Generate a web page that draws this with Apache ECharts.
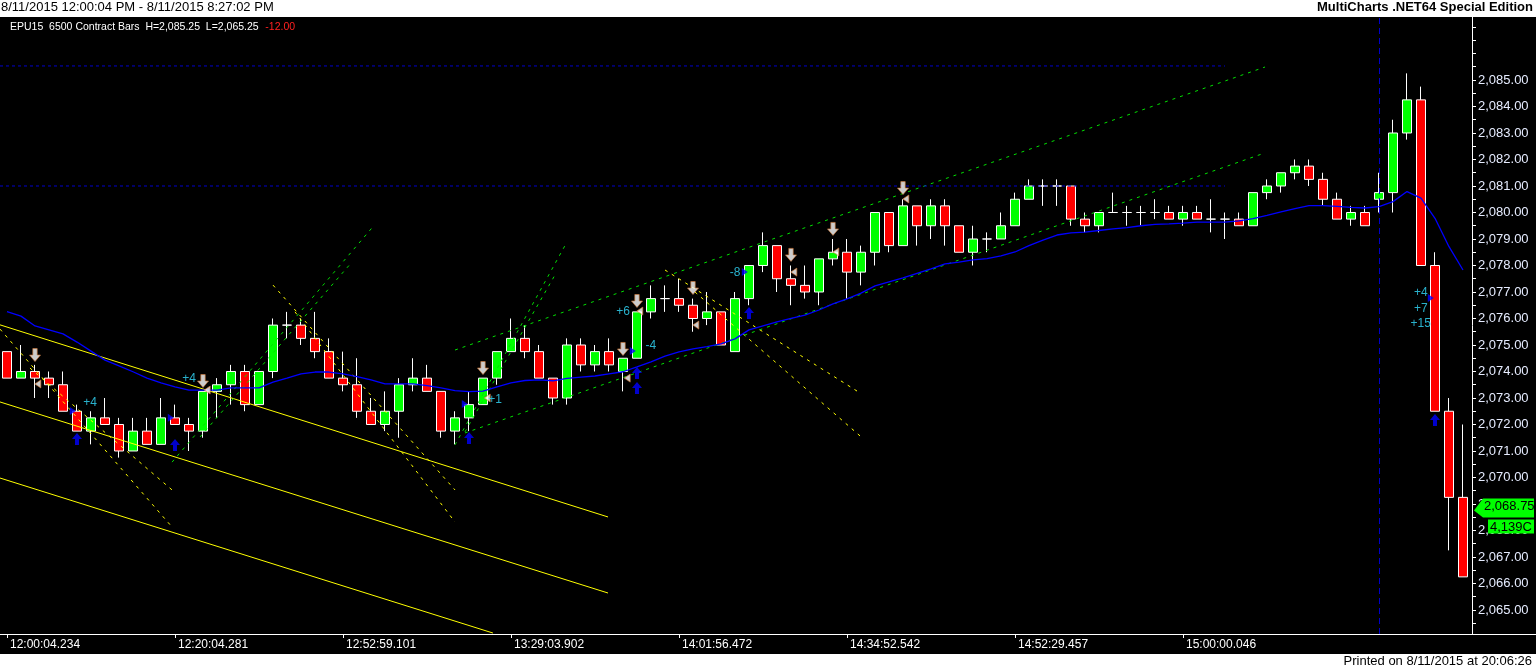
<!DOCTYPE html>
<html>
<head>
<meta charset="utf-8">
<title>EPU15 6500 Contract Bars</title>
<script src="https://cdn.jsdelivr.net/npm/echarts@6/dist/echarts.min.js"></script>
<style>
html, body { margin: 0; padding: 0; background: #000; }
#main { width: 1536px; height: 670px; }
</style>
</head>
<body>
<div id="main"></div>
<script>
// bar data, one entry per 6500 contract bar
var openArr = [
	2074.75, 2073.75, 2074.0, 2073.75, 2073.5, 2072.5, 2071.75, 2072.25, 2072.0, 2071.0,
	2071.75, 2071.25, 2072.25, 2072.0, 2071.75, 2073.25, 2073.5, 2074.0, 2072.75, 2074.0,
	2075.75, 2075.75, 2075.25, 2074.75, 2073.75, 2073.5, 2072.5, 2072.0, 2072.5, 2073.5,
	2073.75, 2073.25, 2071.75, 2072.25, 2072.75, 2073.75, 2074.75, 2075.25, 2074.75, 2073.75,
	2073.0, 2075.0, 2074.25, 2074.75, 2074.0, 2074.5, 2076.25, 2076.75, 2076.75, 2076.5,
	2076.0, 2076.25, 2074.75, 2076.75, 2078.0, 2078.75, 2077.5, 2077.25, 2077.0, 2078.25,
	2078.5, 2077.75, 2078.5, 2080.0, 2078.75, 2080.25, 2079.5, 2080.25, 2079.5, 2078.5,
	2079.0, 2079.0, 2079.5, 2080.5, 2081.0, 2081.0, 2081.0, 2079.75, 2079.5, 2080.0,
	2080.0, 2080.0, 2080.0, 2080.0, 2079.75, 2080.0, 2079.75, 2079.75, 2079.75, 2079.5,
	2080.75, 2081.0, 2081.5, 2081.75, 2081.25, 2080.5, 2079.75, 2080.0, 2080.5, 2080.75,
	2083.0, 2084.25, 2078.0, 2072.5, 2069.25
];
var closeArr = [
	2073.75, 2074.0, 2073.75, 2073.5, 2072.5, 2071.75, 2072.25, 2072.0, 2071.0, 2071.75,
	2071.25, 2072.25, 2072.0, 2071.75, 2073.25, 2073.5, 2074.0, 2072.75, 2074.0, 2075.75,
	2075.75, 2075.25, 2074.75, 2073.75, 2073.5, 2072.5, 2072.0, 2072.5, 2073.5, 2073.75,
	2073.25, 2071.75, 2072.25, 2072.75, 2073.75, 2074.75, 2075.25, 2074.75, 2073.75, 2073.0,
	2075.0, 2074.25, 2074.75, 2074.25, 2074.5, 2076.25, 2076.75, 2076.75, 2076.5, 2076.0,
	2076.25, 2075.0, 2076.75, 2078.0, 2078.75, 2077.5, 2077.25, 2077.0, 2078.25, 2078.5,
	2077.75, 2078.5, 2080.0, 2078.75, 2080.25, 2079.5, 2080.25, 2079.5, 2078.5, 2079.0,
	2079.0, 2079.5, 2080.5, 2081.0, 2081.0, 2081.0, 2079.75, 2079.5, 2080.0, 2080.0,
	2080.0, 2080.0, 2080.0, 2079.75, 2080.0, 2079.75, 2079.75, 2079.75, 2079.5, 2080.75,
	2081.0, 2081.5, 2081.75, 2081.25, 2080.5, 2079.75, 2080.0, 2079.5, 2080.75, 2083.0,
	2084.25, 2078.0, 2072.5, 2069.25, 2066.25
];
var lowArr = [
	2073.75, 2073.75, 2073.0, 2073.0, 2072.5, 2071.75, 2071.25, 2072.0, 2070.75, 2071.0,
	2071.25, 2071.25, 2072.0, 2071.0, 2071.5, 2072.25, 2072.75, 2072.5, 2072.75, 2073.75,
	2075.25, 2075.0, 2074.5, 2073.75, 2073.25, 2072.25, 2072.0, 2071.75, 2071.5, 2073.25,
	2073.25, 2071.5, 2071.25, 2071.75, 2072.75, 2073.5, 2074.75, 2074.5, 2073.75, 2072.75,
	2072.75, 2074.0, 2074.0, 2074.0, 2073.25, 2074.5, 2076.0, 2076.25, 2076.25, 2075.5,
	2075.75, 2075.0, 2074.75, 2076.5, 2077.75, 2077.0, 2076.5, 2076.75, 2076.5, 2078.0,
	2076.75, 2077.25, 2078.0, 2078.5, 2078.75, 2078.75, 2079.0, 2078.75, 2078.5, 2078.0,
	2078.5, 2079.0, 2079.5, 2080.5, 2080.25, 2080.25, 2079.5, 2079.25, 2079.25, 2080.0,
	2079.5, 2079.5, 2079.75, 2079.75, 2079.5, 2079.75, 2079.25, 2079.0, 2079.5, 2079.5,
	2080.5, 2080.75, 2081.25, 2081.0, 2080.25, 2079.75, 2079.5, 2079.5, 2080.0, 2080.0,
	2082.75, 2078.0, 2072.5, 2067.25, 2066.25
];
var highArr = [
	2074.75, 2075.0, 2074.25, 2074.0, 2074.0, 2072.75, 2072.5, 2073.0, 2072.25, 2072.25,
	2072.25, 2073.0, 2072.75, 2072.25, 2073.25, 2073.75, 2074.25, 2074.25, 2074.0, 2076.0,
	2076.25, 2076.0, 2076.25, 2075.25, 2074.75, 2074.5, 2073.0, 2073.25, 2073.75, 2074.5,
	2074.25, 2073.25, 2072.5, 2073.25, 2073.75, 2074.75, 2076.0, 2075.75, 2075.0, 2073.75,
	2075.25, 2075.25, 2075.0, 2075.25, 2074.5, 2076.25, 2077.25, 2077.25, 2077.5, 2076.75,
	2077.0, 2076.25, 2077.0, 2078.0, 2079.25, 2078.75, 2078.0, 2078.0, 2078.25, 2079.0,
	2079.0, 2078.75, 2080.0, 2080.0, 2080.5, 2080.25, 2080.5, 2080.5, 2079.5, 2079.5,
	2079.25, 2080.0, 2080.75, 2081.25, 2081.25, 2081.25, 2081.0, 2080.0, 2080.0, 2080.75,
	2080.25, 2080.25, 2080.5, 2080.25, 2080.25, 2080.25, 2080.5, 2080.0, 2080.0, 2080.75,
	2081.25, 2081.5, 2082.0, 2082.0, 2081.5, 2080.75, 2080.25, 2080.25, 2081.5, 2083.5,
	2085.25, 2084.75, 2078.5, 2073.0, 2072.0
];
// blue moving average
var maArr = [
	2076.26, 2076.09, 2075.72, 2075.57, 2075.42, 2075.11, 2074.77, 2074.43, 2074.21, 2073.99,
	2073.75, 2073.57, 2073.42, 2073.30, 2073.30, 2073.30, 2073.38, 2073.38, 2073.38, 2073.60,
	2073.75, 2073.91, 2073.98, 2073.98, 2073.91, 2073.81, 2073.68, 2073.53, 2073.53, 2073.53,
	2073.47, 2073.38, 2073.28, 2073.24, 2073.26, 2073.42, 2073.57, 2073.66, 2073.68, 2073.65,
	2073.74, 2073.79, 2073.83, 2073.91, 2073.99, 2074.17, 2074.36, 2074.58, 2074.74, 2074.85,
	2074.94, 2075.04, 2075.23, 2075.57, 2075.72, 2075.87, 2076.00, 2076.13, 2076.32, 2076.55,
	2076.74, 2076.96, 2077.23, 2077.38, 2077.53, 2077.70, 2077.87, 2078.06, 2078.13, 2078.21,
	2078.26, 2078.36, 2078.51, 2078.75, 2078.96, 2079.15, 2079.23, 2079.26, 2079.32, 2079.38,
	2079.43, 2079.50, 2079.55, 2079.57, 2079.60, 2079.64, 2079.64, 2079.64, 2079.68, 2079.77,
	2079.89, 2080.02, 2080.15, 2080.26, 2080.26, 2080.23, 2080.19, 2080.17, 2080.22, 2080.41,
	2080.79, 2080.54, 2079.78, 2078.71, 2077.83
];
// time labels, one every 12 bars
var timeLabels = ['12:00:04.234', '12:20:04.281', '12:52:59.101', '13:29:03.902',
	'14:01:56.472', '14:34:52.542', '14:52:29.457', '15:00:00.046'];
var labelStep = 12;
var priceLabels = [2065, 2066, 2067, 2068, 2069, 2070, 2071, 2072, 2073, 2074, 2075,
	2076, 2077, 2078, 2079, 2080, 2081, 2082, 2083, 2084, 2085];
var priceTicks = [2064.5, 2065, 2065.5, 2066, 2066.5, 2067, 2067.5, 2068, 2068.5, 2069, 2069.5,
	2070, 2070.5, 2071, 2071.5, 2072, 2072.5, 2073, 2073.5, 2074, 2074.5, 2075, 2075.5,
	2076, 2076.5, 2077, 2077.5, 2078, 2078.5, 2079, 2079.5, 2080, 2080.5, 2081, 2081.5,
	2082, 2082.5, 2083, 2083.5, 2084, 2084.5, 2085, 2085.5, 2086, 2086.5, 2087];

// drawing tools: [barIndex, price] end points
var yellowChannel = [
	[[-0.5, 2075.76], [42.93, 2068.51]],
	[[-0.5, 2072.85], [42.93, 2065.64]],
	[[-0.5, 2069.98], [34.71, 2064.13]]
];
var yellowDashed = [
	[[-0.5, 2075.60], [11.79, 2068.13]],
	[[1.64, 2074.13], [11.79, 2069.53]],
	[[19.0, 2077.26], [32.0, 2069.53]],
	[[20.57, 2076.25], [32.0, 2068.32]],
	[[47.0, 2077.83], [60.93, 2073.19]],
	[[49.14, 2077.0], [60.93, 2071.57]]
];
var greenDashed = [
	[[11.79, 2070.58], [26.07, 2079.42]],
	[[13.79, 2071.53], [24.64, 2078.13]],
	[[32.0, 2071.23], [40.0, 2078.89]],
	[[32.71, 2071.72], [39.14, 2077.64]],
	[[32.0, 2074.81], [89.86, 2085.49]],
	[[32.71, 2071.68], [89.86, 2082.25]]
];
var blueLevels = [
	[[-0.5, 2085.53], [87.0, 2085.53]],
	[[-0.5, 2081.0], [87.0, 2081.0]]
];
var sessionBar = 98;

// signal marks
var sellArrows = [[2, 2074.62], [14, 2073.64], [34, 2074.13], [44, 2074.85], [45, 2076.66],
	[49, 2077.15], [56, 2078.40], [59, 2079.38], [64, 2080.92]];
var buyArrows = [[5, 2071.45], [12, 2071.23], [33, 2071.49], [45, 2073.94], [45, 2073.38],
	[53, 2076.21], [102, 2072.17]];
var exitMarks = [[4.7, 2072.51], [11.7, 2072.25], [32.7, 2072.77], [44.7, 2074.77],
	[52.7, 2077.75], [101.7, 2076.77]];
var entryMarks = [[2.2, 2073.53], [14.3, 2073.30], [34.3, 2073.0], [45.2, 2076.28], [44.3, 2073.75],
	[49.2, 2075.75], [56.2, 2077.75], [59.2, 2078.51], [64.2, 2080.51]];
var profitNames = ['+4', '+4', '+1', '+6', '-4', '-8', '+4', '+7', '+15'];
var profitPos = [[5.93, 2072.82], [13.0, 2073.72], [34.86, 2072.92], [44.0, 2076.26], [45.98, 2074.96],
	[52.0, 2077.73], [100.98, 2076.97], [100.98, 2076.38], [100.98, 2075.82]];

var lastPrice = 2068.75;
var volumeText = '4,139C';

function fmtPrice(v) {
	var s = v.toFixed(2);
	return s.slice(0, s.length - 6) + ',' + s.slice(s.length - 6);
}

function showTick(index) {
	return index % labelStep === 0 && index / labelStep < timeLabels.length;
}

function segSeries(seg, color, type) {
	return {
		type : 'line',
		xAxisIndex : 1,
		yAxisIndex : 0,
		data : seg,
		symbol : 'none',
		silent : true,
		z : 3,
		lineStyle : { color : color, type : type, width : 1 }
	};
}

var cats = [];
var candleData = [];
for (var i = 0; i < openArr.length; i++) {
	cats.push(String(i));
	candleData.push([openArr[i], closeArr[i], lowArr[i], highArr[i]]);
}

var myChart = echarts.init(document.getElementById('main'));

var series = [];
series.push({
	type : 'candlestick',
	data : candleData,
	barWidth : 9,
	z : 2,
	itemStyle : {
		color : '#00ff00',
		color0 : '#ff0000',
		borderColor : '#ffffff',
		borderColor0 : '#ffffff',
		borderColorDoji : '#ffffff',
		borderWidth : 1
	},
	markLine : {
		symbol : 'none',
		silent : true,
		label : { show : false },
		lineStyle : { color : '#0000cc', type : [6, 4], width : 1 },
		data : [ { xAxis : sessionBar } ]
	}
});
for (var a = 0; a < yellowChannel.length; a++) {
	series.push(segSeries(yellowChannel[a], '#ffff00', 'solid'));
}
for (var b = 0; b < yellowDashed.length; b++) {
	series.push(segSeries(yellowDashed[b], '#ffff00', [3, 5]));
}
for (var c = 0; c < greenDashed.length; c++) {
	series.push(segSeries(greenDashed[c], '#00e000', [3, 5]));
}
for (var d = 0; d < blueLevels.length; d++) {
	series.push(segSeries(blueLevels[d], '#0000cc', [3, 3]));
}
// moving average
series.push({
	type : 'line',
	data : maArr,
	symbol : 'none',
	silent : true,
	z : 3,
	lineStyle : { color : '#0000ff', width : 1.3 }
});
// signals
series.push({
	type : 'scatter', xAxisIndex : 1, data : sellArrows, z : 4, silent : true,
	symbol : 'path://M3,0L7,0L7,6L10,6L5,12L0,6L3,6Z', symbolSize : [11, 13],
	itemStyle : { color : '#ffffff', borderColor : '#d07838', borderWidth : 0.8 }
});
series.push({
	type : 'scatter', xAxisIndex : 1, data : buyArrows, z : 4, silent : true,
	symbol : 'path://M5,0L10,6L7,6L7,12L3,12L3,6L0,6Z', symbolSize : [10, 12],
	itemStyle : { color : '#0000ff' }
});
series.push({
	type : 'scatter', xAxisIndex : 1, data : exitMarks, z : 4, silent : true,
	symbol : 'path://M0,0L8,5L0,10Z', symbolSize : [6, 8],
	itemStyle : { color : '#0000ff' }
});
series.push({
	type : 'scatter', xAxisIndex : 1, data : entryMarks, z : 4, silent : true,
	symbol : 'path://M8,0L0,5L8,10Z', symbolSize : [6, 8],
	itemStyle : { color : '#ffffff', borderColor : '#d07838', borderWidth : 0.8 }
});
var profitData = [];
for (var p = 0; p < profitNames.length; p++) {
	profitData.push({ name : profitNames[p], value : profitPos[p] });
}
series.push({
	type : 'scatter', xAxisIndex : 1, data : profitData, z : 5, silent : true,
	symbolSize : 1,
	itemStyle : { color : 'rgba(0,0,0,0)' },
	label : {
		show : true, position : 'inside', formatter : '{b}',
		color : '#33ddff', fontSize : 12, fontFamily : 'Liberation Sans'
	}
});

var option = {
	animation : false,
	backgroundColor : '#000000',
	grid : { left : 0, right : 66, top : 17, bottom : 36, show : false },
	xAxis : [ {
		type : 'category',
		data : cats,
		boundaryGap : true,
		axisLine : { show : false },
		axisTick : {
			show : true, interval : function(index) { return showTick(index); },
			alignWithLabel : true, length : 4,
			lineStyle : { color : '#ffffff' }
		},
		axisLabel : {
			interval : function(index) { return showTick(index); },
			formatter : function(value, index) { return timeLabels[index / labelStep] || ''; },
			align : 'left', padding : [0, 0, 0, 3], margin : 5,
			color : '#ffffff', fontSize : 12, fontFamily : 'Liberation Sans'
		},
		splitLine : { show : false }
	}, {
		type : 'value', min : -0.5, max : 104.5, show : false
	} ],
	yAxis : {
		type : 'value',
		position : 'right',
		offset : 2,
		min : 2064.094,
		max : 2087.377,
		scale : true,
		axisLine : { show : true, onZero : false, lineStyle : { color : '#ffffff', width : 1 } },
		axisTick : { show : true, length : 4, customValues : priceTicks, lineStyle : { color : '#ffffff' } },
		axisLabel : {
			customValues : priceLabels,
			formatter : function(v) { return fmtPrice(v); },
			margin : 6, color : '#e6ecff', fontSize : 13, fontFamily : 'Liberation Sans'
		},
		splitLine : { show : false }
	},
	series : series
};
myChart.setOption(option);

// frame, header and price tags
var tagY = myChart.convertToPixel({ yAxisIndex : 0 }, lastPrice);
myChart.setOption({
	graphic : [
		{ type : 'rect', z : 100, shape : { x : 0, y : 0, width : 1536, height : 17 }, style : { fill : '#ffffff' } },
		{ type : 'text', z : 101, left : 1, top : 1,
			style : { text : '8/11/2015 12:00:04 PM - 8/11/2015 8:27:02 PM', fill : '#000', font : '13px "Liberation Sans"' } },
		{ type : 'text', z : 101, right : 3, top : 1,
			style : { text : 'MultiCharts .NET64 Special Edition', fill : '#000', font : 'bold 13px "Liberation Sans"' } },
		{ type : 'text', z : 101, left : 10, top : 21,
			style : {
				text : '{w|EPU15  6500 Contract Bars  H=2,085.25  L=2,065.25}  {r|-12.00}',
				rich : {
					w : { fill : '#ffffff', font : '10.5px "Liberation Sans"' },
					r : { fill : '#ff2020', font : '10.5px "Liberation Sans"' }
				}
			} },
		{ type : 'line', z : 100, shape : { x1 : 0, y1 : 634.5, x2 : 1536, y2 : 634.5 }, style : { stroke : '#ffffff', lineWidth : 1 } },
		{ type : 'rect', z : 100, shape : { x : 0, y : 654, width : 1536, height : 16 }, style : { fill : '#ffffff' } },
		{ type : 'text', z : 101, right : 4, top : 655,
			style : { text : 'Printed on 8/11/2015 at 20:06:26', fill : '#000', font : '13px "Liberation Sans"' } },
		{ type : 'polygon', z : 100,
			shape : { points : [[1474, tagY], [1483, tagY - 12], [1534, tagY - 12], [1534, tagY + 7], [1483, tagY + 7]] },
			style : { fill : '#00ff00' } },
		{ type : 'text', z : 101, left : 1484, top : tagY - 11,
			style : { text : fmtPrice(lastPrice), fill : '#000', font : '13px "Liberation Sans"' } },
		{ type : 'rect', z : 100, shape : { x : 1488, y : tagY + 9, width : 46, height : 14 }, style : { fill : '#00ff00' } },
		{ type : 'text', z : 101, left : 1490, top : tagY + 10,
			style : { text : volumeText, fill : '#000', font : '13px "Liberation Sans"' } }
	]
});
</script>
</body>
</html>
